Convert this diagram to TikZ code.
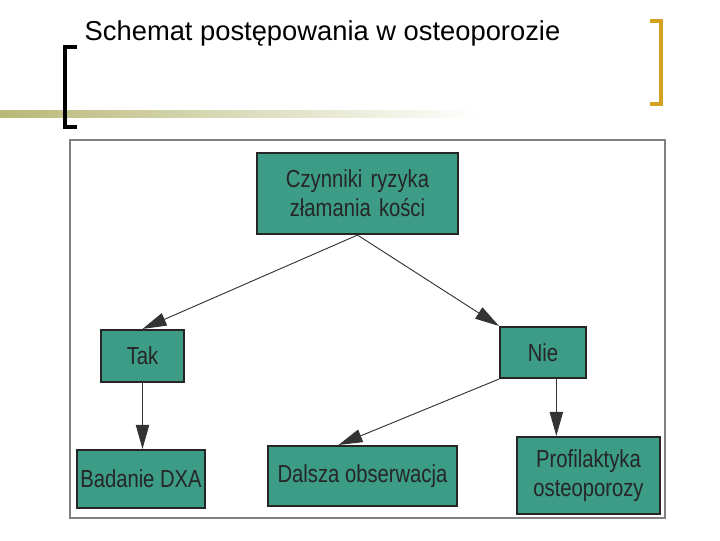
\documentclass[tikz,border=0pt]{standalone}
\usepackage{fontspec}
\setmainfont{Liberation Sans}
\newfontfamily\narrowfont[FakeStretch=0.82]{Liberation Sans}
\usetikzlibrary{arrows.meta}
\definecolor{teal1}{HTML}{3C9C86}
\definecolor{olive1}{HTML}{B8B878}
\definecolor{gold1}{HTML}{D4A020}
\tikzset{
 box/.style={draw=black!85, line width=1.6pt, fill=teal1, inner sep=0pt, align=center, font=\narrowfont\fontsize{18.5}{22}\selectfont, text=black!85},
 arr/.style={draw=black!80, line width=0.7pt, -{Triangle[length=18pt,width=10pt]}}
}
\begin{document}
\begin{tikzpicture}[x=0.75pt,y=-0.75pt]
\useasboundingbox (0,0) rectangle (720,540);
\shade[left color=olive1, right color=white] (0,110) rectangle (480,117);
\draw[line width=3pt] (77,47) -- (65,47) -- (65,127) -- (77,127);
\draw[gold1, line width=3.5pt] (650,21) -- (661,21) -- (661,104) -- (650,104);
\node[anchor=west, font=\fontsize{20.5}{24}\selectfont] (title) at (80,33) {Schemat postępowania w osteoporozie};
\draw[gray, line width=1pt] (70,140) rectangle (665,518);
\node[box, text width=195*0.75pt, minimum width=201*0.75pt, minimum height=81*0.75pt] (top) at (357.5,193.5) {Czynniki ryzyka\\złamania kości};
\node[box, minimum width=83*0.75pt, minimum height=52*0.75pt] (tak) at (142.5,356) {Tak};
\node[box, minimum width=86*0.75pt, minimum height=51*0.75pt] (nie) at (543,352.5) {Nie};
\node[box, minimum width=128*0.75pt, minimum height=58*0.75pt] (dxa) at (141,479) {Badanie DXA};
\node[box, minimum width=189*0.75pt, minimum height=60*0.75pt] (dal) at (362.5,476) {Dalsza obserwacja};
\node[box, minimum width=143*0.75pt, minimum height=77*0.75pt] (pro) at (588.5,475.5) {Profilaktyka\\osteoporozy};
\draw[arr] (top.south) -- (tak.north);
\draw[arr] (top.south) -- (nie.north west);
\draw[arr] (tak.south) -- (tak.south |- dxa.north);
\draw[arr] (nie.south west) -- ([xshift=-18pt]dal.north);
\draw[arr] ([xshift=10pt]nie.south) -- ([xshift=10pt]nie.south |- pro.north);
\end{tikzpicture}
\end{document}
